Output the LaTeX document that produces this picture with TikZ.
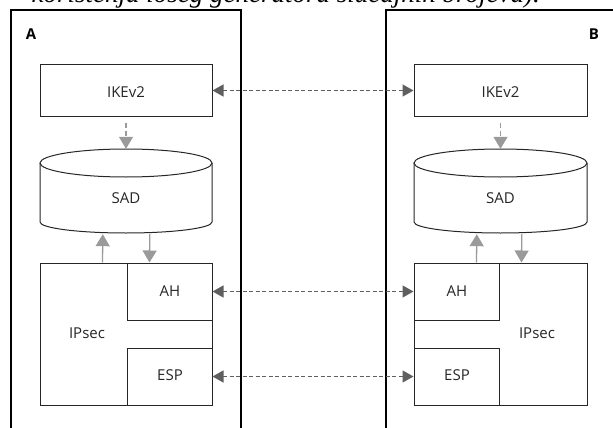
\documentclass[tikz,border=0pt]{standalone}
\usepackage{fontspec}
\setmainfont{Open Sans}
\newfontfamily\topserif{Liberation Serif}
\usetikzlibrary{arrows.meta}
\definecolor{hgray}{HTML}{5F5F5F}
\definecolor{vgray}{HTML}{9A9A9A}
\tikzset{
  frame/.style={draw=black, line width=1.2pt},
  box/.style={draw=black!85, line width=1pt, inner sep=0pt},
  lbl/.style={font=\fontsize{15}{17}\selectfont, text=black!85, inner sep=0pt},
  side/.style={font=\fontsize{15}{17}\selectfont\bfseries, inner sep=0pt},
  link/.style={draw=hgray, line width=1.3pt, dash pattern=on 4pt off 2.5pt,
    {Triangle[length=11pt,width=12pt,fill=hgray]}-{Triangle[length=11pt,width=12pt,fill=hgray]}},
  flow/.style={draw=vgray, line width=1.3pt, -{Triangle[length=12pt,width=14pt,fill=vgray]}},
  dflow/.style={flow, dash pattern=on 5pt off 3pt},
}
\begin{document}
\begin{tikzpicture}[x=1pt,y=-1pt]
\useasboundingbox (0,0) rectangle (613,428);
% cut top caption line
\node[anchor=base east, inner sep=0pt, font=\fontsize{27}{30}\selectfont\topserif\itshape] (cap) at (540,2.5) {korištenja lošeg generatora slučajnih brojeva).};
% frames
\draw[frame] (11,440) -- (11,10) -- (241,10) -- (241,440);
\draw[frame] (625,10) -- (386,10) -- (386,440);
\node[side] (la) at (31,34) {A};
\node[side] (lb) at (594,34) {B};

% ---------- side A ----------
\node[box, minimum width=172pt, minimum height=51pt] (ikeA) at (126,90.5) {};
\node[lbl] (ikeAt) at (126,92) {IKEv2};
\node[inner sep=0pt, minimum width=172pt, minimum height=84pt] (sadA) at (126,191) {};
\draw[black!85, line width=1pt] (40,163) -- (40,222) arc[start angle=180, delta angle=-180, x radius=86, y radius=11] -- (212,163);
\draw[black!85, line width=1pt] (126,163) ellipse[x radius=86, y radius=14];
\node[lbl] (sadAt) at (126,198) {SAD};
\node[box, minimum width=172pt, minimum height=142pt] (ipA) at (126,334) {};
\node[box, minimum width=85pt, minimum height=57pt] (ahA) at (169.5,291.5) {};
\node[box, minimum width=85pt, minimum height=57pt] (espA) at (169.5,376.5) {};
\node[lbl] (ipAt) at (87,333) {IPsec};
\node[lbl] (ahAt) at (170,291) {AH};
\node[lbl] (espAt) at (170,375) {ESP};

% ---------- side B ----------
\node[box, minimum width=173pt, minimum height=51pt] (ikeB) at (500.5,90.5) {};
\node[lbl] (ikeBt) at (500.5,92) {IKEv2};
\node[inner sep=0pt, minimum width=173pt, minimum height=84pt] (sadB) at (500.5,191) {};
\draw[black!85, line width=1pt] (414,163) -- (414,222) arc[start angle=180, delta angle=-180, x radius=86.5, y radius=11] -- (587,163);
\draw[black!85, line width=1pt] (500.5,163) ellipse[x radius=86.5, y radius=14];
\node[lbl] (sadBt) at (500.5,198) {SAD};
\node[box, minimum width=173pt, minimum height=142pt] (ipB) at (500.5,334) {};
\node[box, minimum width=85pt, minimum height=57pt] (ahB) at (456.5,291.5) {};
\node[box, minimum width=85pt, minimum height=57pt] (espB) at (456.5,376.5) {};
\node[lbl] (ipBt) at (537,333) {IPsec};
\node[lbl] (ahBt) at (457,291) {AH};
\node[lbl] (espBt) at (457,375) {ESP};

% ---------- vertical flows ----------
\draw[dflow, shorten <=6pt] (ikeA.south) -- (sadA.north);
\draw[dflow, shorten <=6pt] (ikeB.south) -- (sadB.north);
\draw[flow] ([xshift=63pt]ipA.north west) -- ([xshift=63pt,yshift=-1pt]sadA.south west);
\draw[flow] ([xshift=110pt,yshift=-1pt]sadA.south west) -- ([xshift=110pt]ipA.north west);
\draw[flow] ([xshift=63pt]ipB.north west) -- ([xshift=63pt,yshift=-1pt]sadB.south west);
\draw[flow] ([xshift=108pt,yshift=-1pt]sadB.south west) -- ([xshift=108pt]ipB.north west);

% ---------- links between A and B ----------
\draw[link] (ikeA.east) -- (ikeB.west);
\draw[link] (ahA.east) -- (ahB.west);
\draw[link] (espA.east) -- (espB.west);
\end{tikzpicture}
\end{document}
